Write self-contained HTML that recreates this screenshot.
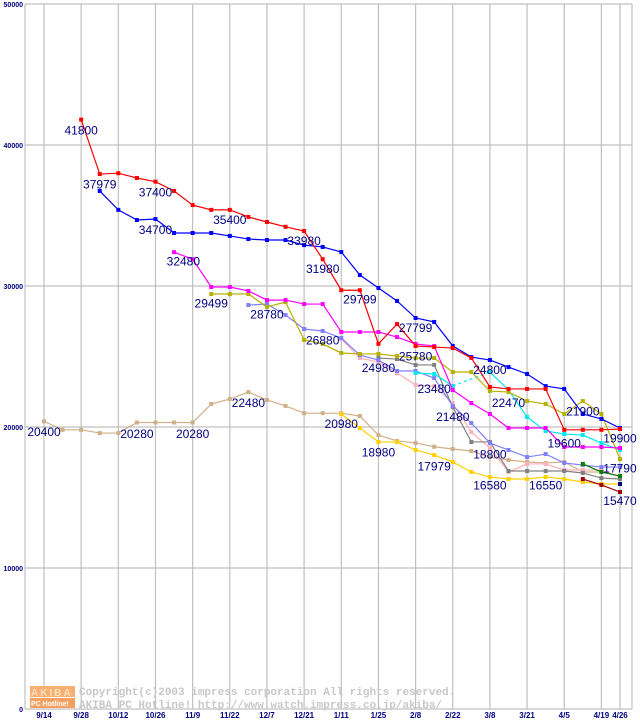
<!DOCTYPE html>
<html><head><meta charset="utf-8"><style>
body{margin:0;background:#fff;width:640px;height:720px;overflow:hidden}
svg{display:block}
</style></head><body>
<svg id="chart" width="640" height="720" xmlns="http://www.w3.org/2000/svg" font-family="Liberation Sans, sans-serif"></svg>
<script>
const xTickLabels=["9/14","9/28","10/12","10/26","11/9","11/22","12/7","12/21","1/11","1/25","2/8","2/22","3/8","3/21","4/5","4/19","4/26"];
const xTickWeeks=[0,2,4,6,8,10,12,14,16,18,20,22,24,26,28,30,31];
const yTicks=[0,10000,20000,30000,40000,50000];
const seriesRed=[null,null,41800,37940,38000,37660,37400,36740,35740,35400,35400,34900,34540,34200,33900,31900,29700,29700,25900,27300,25750,25670,25600,24900,22840,22700,22700,22700,19800,19800,19800,19860];
const seriesBlue=[null,null,null,36740,35400,34680,34750,33760,33760,33760,33550,33330,33260,33260,32900,32770,32410,30780,29860,28940,27730,27450,25750,24960,24750,24250,23760,22900,22700,20920,20570,19930];
const seriesMagenta=[null,null,null,null,null,null,null,32400,31900,29930,29930,29650,29000,29000,28720,28720,26740,26740,26740,26380,25890,25740,22620,21700,20920,19930,19930,19930,18580,18580,18580,18510];
const seriesOlive=[null,null,null,null,null,null,null,null,null,29430,29430,29430,28510,28860,26170,25890,25250,25180,25180,25030,24890,24890,23900,23900,22550,22480,21840,21630,20920,21840,20920,17730];
const seriesPurple=[null,null,null,null,null,null,null,null,null,null,null,28650,28720,27940,26950,26810,26310,25100,24750,23970,23970,23470,21490,20280,18860,18370,17870,18080,17450,17300,17160,17160];
const seriesPink=[null,null,null,null,null,null,null,null,null,null,null,null,null,null,null,null,26240,24890,24610,23830,22980,22900,21700,19640,18510,16810,17380,17380,16950,16950,16950,16450];
const seriesGray=[null,null,null,null,null,null,null,null,null,null,null,null,null,null,null,null,null,null,24890,24820,24400,24400,21420,18940,18940,16880,16880,16880,16880,16740,16380,16310];
const seriesTan=[20400,19800,19800,19570,19570,20320,20320,20320,20320,21630,21980,22480,21920,21490,20980,20980,20980,20780,19430,19010,18870,18600,18440,18300,17870,17660,17520,17450,17520,16810,16810,16520];
const seriesGold=[null,null,null,null,null,null,null,null,null,null,null,null,null,null,null,null,20920,19930,18940,18940,18370,18010,17520,16810,16450,16310,16310,16450,16310,16100,15960,15960];
const seriesCyan=[null,null,null,null,null,null,null,null,null,null,null,null,null,null,null,null,null,null,null,null,23830,23760,22910,null,23900,22620,20710,19720,19500,19430,18860,18370];
const seriesGreen=[null,null,null,null,null,null,null,null,null,null,null,null,null,null,null,null,null,null,null,null,null,null,null,null,null,null,null,null,null,17380,16810,16520];
const seriesDarkRed=[null,null,null,null,null,null,null,null,null,null,null,null,null,null,null,null,null,null,null,null,null,null,null,null,null,null,null,null,null,16310,15890,15390];
const seriesNavy=[null,null,null,null,null,null,null,null,null,null,null,null,null,null,null,null,null,null,null,null,null,null,null,null,null,null,null,null,null,null,null,15960];
const labelTexts=["41800","37979","37400","34700","35400","33980","32480","31980","29499","29799","28780","27799","26880","25780","24980","24800","23480","22470","22480","21900","21480","20400","20280","20280","20980","19900","19600","18980","18800","17979","17790","16580","16550","15470"];
const labelWeeks=[2,3,6,6,10,14,7.5,15,9,17,12,20,15,20,18,24,21,25,11,29,22,0,5,8,16,31,28,18,24,21,31,24,27,31];
const labelValues=[41300,37500,36900,34240,34980,33480,32030,31500,29060,29340,28270,27300,26410,25300,24480,24340,22970,22000,21980,21400,21000,19940,19800,19800,20480,19460,19120,18490,18320,17500,17330,16120,16120,15030];

const svg=document.getElementById('chart');
const NS='http://www.w3.org/2000/svg';
const X0=25,X1=632,YT=4,YB=709;
function xs(i){return 44+i*18.58;}
function ys(v){return YB-(v/50000)*(YB-YT);}
function mk(tag,attrs,parent){const e=document.createElementNS(NS,tag);for(const k in attrs)e.setAttribute(k,attrs[k]);(parent||svg).appendChild(e);return e;}

const grid=mk('g',{});


yTicks.forEach(v=>{
  const l=mk('line',{x1:X0,x2:X1,y1:ys(v),y2:ys(v),stroke:'#c0c0c0','stroke-width':1.2},grid);
  
  
  const t=mk('text',{x:X0-2,y:ys(v)+3,'text-anchor':'end','font-size':7,'font-weight':'bold',fill:'#000080'});
  t.textContent=v;
  
  
});
const vx=[X0].concat(xTickWeeks.map(xs)).concat([X1]);
vx.forEach(x=>{
  const l=mk('line',{x1:x,x2:x,y1:YT,y2:YB,stroke:'#c0c0c0','stroke-width':1.2},grid);
  
  
});
xTickLabels.forEach((s,k)=>{
  const t=mk('text',{x:xs(xTickWeeks[k]),y:718,'text-anchor':'middle','font-size':8,'font-weight':'bold',fill:'#000080'});
  t.textContent=s;
  
  
});

const wm=mk('g',{});


mk('rect',{x:30,y:686,width:45,height:11,fill:'#f8b070'},wm);
mk('rect',{x:30,y:698,width:45,height:10,fill:'#f8a060'},wm);
const a1=mk('text',{x:31,y:696,'font-size':10,'font-weight':'bold',fill:'#ffe0c0','letter-spacing':'2'},wm);a1.textContent='AKIBA';
const a2=mk('text',{x:31,y:706,'font-size':7,'font-weight':'bold',fill:'#fff'},wm);a2.textContent='PC Hotline!';
const c1=mk('text',{x:79,y:695,'font-size':11,'font-weight':'bold',fill:'#c8c8c8','font-family':'Liberation Mono, monospace'},wm);c1.textContent='Copyright(c)2003 impress corporation All rights reserved.';
const c2=mk('text',{x:79,y:708,'font-size':11,'font-weight':'bold',fill:'#c8c8c8','font-family':'Liberation Mono, monospace'},wm);c2.textContent='AKIBA PC Hotline!  http://www.watch.impress.co.jp/akiba/';

const series=[
 ['series-tan',seriesTan,'#d0b088'],
 ['series-gold',seriesGold,'#ffd000'],
 ['series-pink',seriesPink,'#ffb0b8'],
 ['series-gray',seriesGray,'#808080'],
 ['series-purple',seriesPurple,'#8080ff'],
 ['series-cyan',seriesCyan,'#00e8f0'],
 ['series-olive',seriesOlive,'#b8b000'],
 ['series-magenta',seriesMagenta,'#ff00ff'],
 ['series-green',seriesGreen,'#008000'],
 ['series-darkred',seriesDarkRed,'#a00000'],
 ['series-navy',seriesNavy,'#000080'],
 ['series-blue',seriesBlue,'#0000ff'],
 ['series-red',seriesRed,'#ff0000']
];
series.forEach(([name,data,col])=>{
  const g=mk('g',{});
  
  
  let segs=[],cur=[];
  data.forEach((v,i)=>{if(v==null){if(cur.length)segs.push(cur);cur=[];}else cur.push([xs(i),ys(v)]);});
  if(cur.length)segs.push(cur);
  segs.forEach(s=>{if(s.length>1){const p=mk('polyline',{points:s.map(q=>q.join(',')).join(' '),fill:'none',stroke:col,'stroke-width':1.2},g);
    
    }});
  if(name==='series-cyan'){const d=mk('line',{x1:xs(22),y1:ys(data[22]),x2:xs(24),y2:ys(data[24]),stroke:col,'stroke-width':1.2,'stroke-dasharray':'3,3'},g);
    
    }
  data.forEach((v,i)=>{if(v==null)return;
    const r=mk('rect',{x:xs(i)-2,y:ys(v)-2,width:4,height:4,fill:col},g);
    
    });
});
labelTexts.forEach((s,k)=>{
  const t=mk('text',{x:xs(labelWeeks[k]),y:ys(labelValues[k])+8,'text-anchor':'middle','font-size':12,fill:'#000080'});
  t.textContent=s;
  
  
});
</script>
</body></html>
